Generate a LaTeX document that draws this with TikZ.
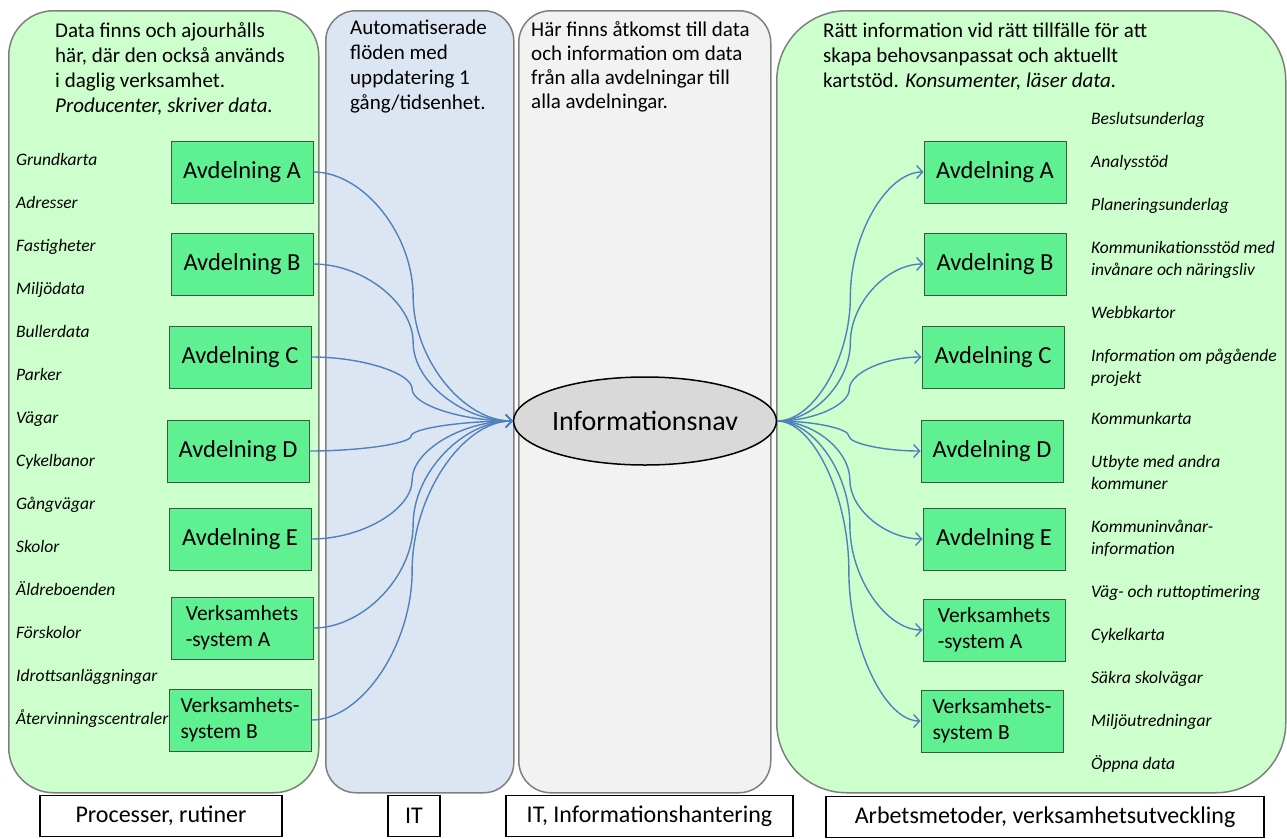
\documentclass[tikz,border=0pt]{standalone}
\usepackage{fontspec}
\setmainfont{Carlito}
\usetikzlibrary{arrows.meta,calc,shapes.geometric}
\definecolor{pgreen}{HTML}{CCFFCC}
\definecolor{itblue}{HTML}{DCE6F2}
\definecolor{infogray}{HTML}{F2F2F2}
\definecolor{boxgreen}{HTML}{5FF091}
\definecolor{boxborder}{HTML}{3A5A40}
\definecolor{hubgray}{HTML}{D9D9D9}
\definecolor{connblue}{HTML}{4F81BD}
\definecolor{panelgray}{HTML}{7F7F7F}
\newcommand\fsz[2]{\fontsize{#1}{#2}\selectfont}
\newcommand\pconn[3][]{\draw[conn,#1] let \p1=(#2), \p2=(#3) in (\p1) .. controls ({\x1+(\x2-\x1)/4},\y1) and ({(\x1+\x2)/2},{\y1+(\y2-\y1)/4}) .. ({(\x1+\x2)/2},{(\y1+\y2)/2}) .. controls ({(\x1+\x2)/2},{\y1+3*(\y2-\y1)/4}) and ({\x1+3*(\x2-\x1)/4},\y2) .. (\p2);}
\begin{document}
\begin{tikzpicture}[x=1pt,y=1pt,
 panel/.style={draw=panelgray, line width=1.5pt, inner sep=0pt, anchor=north west},
 dept/.style={draw=boxborder, fill=boxgreen, line width=1pt, minimum width=142pt, minimum height=62pt, inner sep=0pt, font=\fsz{24.5}{29}},
 vsys/.style={dept, font=\fsz{21.5}{26}, align=left},
 item/.style={anchor=base west, inner sep=0pt, font=\fsz{17.5}{22}\itshape, align=left},
 head/.style={anchor=base west, inner sep=0pt, align=left, font=\fsz{21}{25}},
 lbl/.style={draw=black, line width=1.2pt, inner sep=0pt, minimum height=41pt, font=\fsz{24}{28}},
 conn/.style={draw=connblue, line width=1.4pt},
 tip/.style={-{Straight Barb[length=6pt,width=13pt,line width=1.4pt]}}
]
\useasboundingbox (0,0) rectangle (1287,-838);
\fill[white] (0,0) rectangle (1287,-838);
% panels
\node[panel, fill=pgreen, rounded corners=45pt, minimum width=310pt, minimum height=782pt] (pl) at (8,-10) {};
\node[panel, fill=itblue, rounded corners=30pt, minimum width=188pt, minimum height=782pt] (pit) at (325,-10) {};
\node[panel, fill=infogray, rounded corners=32pt, minimum width=252pt, minimum height=782pt] (pinfo) at (518,-10) {};
\node[panel, fill=pgreen, rounded corners=70pt, minimum width=509pt, minimum height=782pt] (pr) at (776,-10) {};
% headers (anchor at baseline of last line)
\node[head] (hl) at (55,-112) {Data finns och ajourhålls\\här, där den också används\\i daglig verksamhet.\\\textit{Producenter, skriver data.}};
\node[head] (hit) at (350,-109) {Automatiserade\\flöden med\\uppdatering 1\\gång/tidsenhet.};
\node[head, font=\fsz{21}{24}] (hinfo) at (531,-108) {Här finns åtkomst till data\\och information om data\\från alla avdelningar till\\alla avdelningar.};
\node[head] (hr) at (823,-87) {Rätt information vid rätt tillfälle för att\\skapa behovsanpassat och aktuellt\\kartstöd. \textit{Konsumenter, läser data.}};
% left items
\node[item] (l1) at (16,-165) {Grundkarta};
\node[item] (l2) at (16,-208) {Adresser};
\node[item] (l3) at (16,-251) {Fastigheter};
\node[item] (l4) at (16,-294) {Miljödata};
\node[item] (l5) at (16,-337) {Bullerdata};
\node[item] (l6) at (16,-380) {Parker};
\node[item] (l7) at (16,-423) {Vägar};
\node[item] (l8) at (16,-466) {Cykelbanor};
\node[item] (l9) at (16,-509) {Gångvägar};
\node[item] (l10) at (16,-552) {Skolor};
\node[item] (l11) at (16,-595) {Äldreboenden};
\node[item] (l12) at (16,-638) {Förskolor};
\node[item] (l13) at (16,-681) {Idrottsanläggningar};
\node[item] (l14) at (16,-724) {Återvinningscentraler};
% right items (multi-line: anchor at last baseline)
\node[item] (r1) at (1091,-124) {Beslutsunderlag};
\node[item] (r2) at (1091,-167) {Analysstöd};
\node[item] (r3) at (1091,-210) {Planeringsunderlag};
\node[item] (r4) at (1091,-275) {Kommunikationsstöd med\\invånare och näringsliv};
\node[item] (r5) at (1091,-318) {Webbkartor};
\node[item] (r6) at (1091,-383) {Information om pågående\\projekt};
\node[item] (r7) at (1091,-424) {Kommunkarta};
\node[item] (r8) at (1091,-489) {Utbyte med andra\\kommuner};
\node[item] (r9) at (1091,-554) {Kommuninvånar-\\information};
\node[item] (r10) at (1091,-597) {Väg- och ruttoptimering};
\node[item] (r11) at (1091,-640) {Cykelkarta};
\node[item] (r12) at (1091,-683) {Säkra skolvägar};
\node[item] (r13) at (1091,-726) {Miljöutredningar};
\node[item] (r14) at (1091,-769) {Öppna data};
% left boxes
\node[dept] (la) at (242,-172) {Avdelning A};
\node[dept] (lb) at (242,-264) {Avdelning B};
\node[dept] (lc) at (240,-357) {Avdelning C};
\node[dept] (ld) at (238,-451) {Avdelning D};
\node[dept] (le) at (240,-539) {Avdelning E};
\node[vsys] (lva) at (242,-628) {Verksamhets\\-system A};
\node[vsys] (lvb) at (240,-720) {Verksamhets-\\system B};
% right boxes
\node[dept] (ra) at (995,-172) {Avdelning A};
\node[dept] (rb) at (995,-264) {Avdelning B};
\node[dept] (rc) at (993,-357) {Avdelning C};
\node[dept] (rd) at (992,-451) {Avdelning D};
\node[dept] (re) at (994,-539) {Avdelning E};
\node[vsys] (rva) at (994,-630) {Verksamhets\\-system A};
\node[vsys] (rvb) at (992,-721) {Verksamhets-\\system B};
% hub
\node[ellipse, draw=black, line width=1.5pt, fill=hubgray, minimum width=252pt, minimum height=88pt, inner sep=0pt, font=\fsz{28}{32}] (hub) at (645,-421) {Informationsnav};
% connectors
\pconn[tip]{la.east}{hub.west}
\pconn[tip]{lb.east}{hub.west}
\pconn[tip]{lc.east}{hub.west}
\pconn[tip]{ld.east}{hub.west}
\pconn[tip]{le.east}{hub.west}
\pconn[tip]{lva.east}{hub.west}
\pconn[tip]{lvb.east}{hub.west}
\pconn[tip]{hub.east}{ra.west}
\pconn[tip]{hub.east}{rb.west}
\pconn[tip]{hub.east}{rc.west}
\pconn[tip]{hub.east}{rd.west}
\pconn[tip]{hub.east}{re.west}
\pconn[tip]{hub.east}{rva.west}
\pconn[tip]{hub.east}{rvb.west}
% bottom labels
\node[lbl, minimum width=242pt] (b1) at (161,-816) {Processer, rutiner};
\node[lbl, minimum width=52pt] (b2) at (414,-816) {IT};
\node[lbl, minimum width=287pt] (b3) at (649.5,-816) {IT, Informationshantering};
\node[lbl, minimum width=438pt] (b4) at (1045,-817) {Arbetsmetoder, verksamhetsutveckling};
\end{tikzpicture}
\end{document}
